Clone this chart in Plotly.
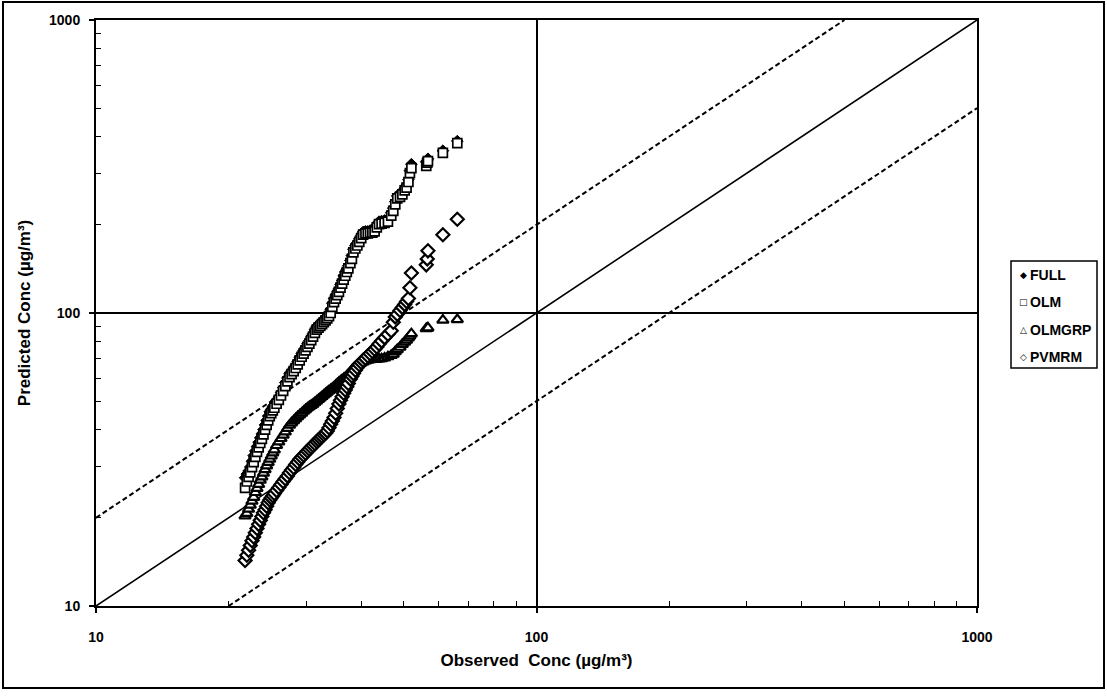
import plotly.graph_objects as go

# ---------------- data ----------------
OBSERVED = [21.8, 22.0, 22.2, 22.4, 22.6, 22.8, 23.0, 23.2, 23.4, 23.6,
            23.8, 24.0, 24.2, 24.4, 24.6, 24.8, 25.0, 25.2, 25.4, 25.7,
            26.0, 26.3, 26.6, 26.9, 27.2, 27.5, 27.8, 28.1, 28.4, 28.7,
            29.0, 29.3, 29.6, 29.9, 30.2, 30.5, 30.8, 31.1, 31.4, 31.7,
            32.0, 32.3, 32.6, 32.9, 33.2, 33.5, 33.8, 34.1, 34.4, 34.7,
            35.0, 35.3, 35.6, 35.9, 36.2, 36.5, 36.8, 37.1, 37.4, 37.8,
            38.1, 38.4, 38.8, 39.2, 39.6, 40.0, 40.4, 40.9, 41.4, 41.9,
            42.4, 42.9, 43.4, 43.9, 44.5, 45.2, 46.0, 46.8, 47.3, 47.8,
            48.3, 49.0, 49.6, 50.2, 50.7, 51.2, 51.6, 52.0, 56.2, 56.5,
            56.7, 61.3, 66.1]

FULL = [27.4, 28.2, 28.9, 29.8, 31.2, 32.6, 33.8, 35.0, 36.2, 37.5,
        38.7, 40.0, 41.5, 43.0, 44.5, 46.0, 46.9, 47.8, 48.7, 50.3,
        51.6, 53.5, 55.6, 57.9, 60.0, 62.0, 63.4, 64.8, 66.4, 68.4,
        70.6, 72.6, 74.4, 76.4, 78.4, 80.5, 82.8, 85.0, 87.6, 89.8,
        91.0, 92.2, 93.6, 95.0, 96.4, 97.8, 99.5, 103, 108, 112,
        115, 118, 121, 125, 129, 134, 138, 141, 145, 151,
        157, 165, 170, 174, 179, 184, 189, 190, 190, 191,
        191, 193, 200, 205, 206, 207, 209, 220, 228, 240,
        251, 253, 258, 266, 273, 285, 306, 322, 328, 332,
        336, 358, 386]

OLM = [25.3, 26.6, 27.6, 28.6, 29.8, 31.0, 32.3, 33.6, 34.8, 36.0,
       37.2, 38.5, 40.0, 41.5, 43.0, 44.5, 45.5, 46.5, 47.5, 49.0,
       50.5, 52.3, 54.2, 56.3, 58.4, 60.4, 61.9, 63.3, 64.9, 66.8,
       68.9, 70.9, 72.7, 74.6, 76.6, 78.6, 80.8, 83.0, 85.5, 87.8,
       89.1, 90.3, 91.6, 93.0, 94.4, 95.8, 97.5, 100, 105, 109,
       112, 115, 118, 122, 126, 130, 134, 138, 142, 148,
       153, 161, 166, 170, 175, 180, 185, 187, 187, 188,
       188, 190, 196, 201, 202, 203, 205, 215, 223, 235,
       246, 249, 254, 262, 268, 280, 300, 312, 318, 326,
       330, 352, 380]

OLMGRP = [20.3, 20.7, 21.4, 22.1, 22.8, 23.5, 24.4, 25.2, 26.0, 26.9,
          27.6, 28.4, 29.2, 30.1, 30.9, 31.7, 32.5, 33.3, 34.1, 35.3,
          36.3, 37.3, 38.3, 39.3, 40.4, 41.4, 42.2, 42.9, 43.6, 44.3,
          44.9, 45.5, 46.2, 46.8, 47.4, 47.9, 48.4, 48.9, 49.5, 50.1,
          50.7, 51.3, 51.9, 52.5, 53.1, 53.7, 54.3, 54.8, 55.3, 55.9,
          56.6, 57.3, 58.0, 58.6, 59.2, 59.7, 60.2, 60.9, 61.8, 62.9,
          63.8, 64.7, 65.6, 66.5, 67.0, 67.6, 68.1, 68.6, 69.0, 69.3,
          69.4, 69.5, 69.6, 69.7, 69.8, 70.2, 70.9, 71.7, 72.4, 73.8,
          75.0, 76.4, 78.2, 79.6, 80.8, 82.3, 83.6, 85.0, 88.5, 88.7,
          89.0, 94.6, 95.0]

PVMRM = [14.3, 14.9, 15.5, 16.1, 16.7, 17.2, 17.8, 18.4, 19.0, 19.6,
         20.2, 20.8, 21.3, 21.9, 22.5, 23.0, 23.4, 23.8, 24.2, 24.8,
         25.4, 26.0, 26.6, 27.2, 27.8, 28.5, 29.1, 29.7, 30.4, 31.0,
         31.7, 32.2, 32.7, 33.2, 33.8, 34.3, 34.8, 35.3, 35.8, 36.4,
         36.9, 37.4, 37.9, 38.4, 38.9, 39.6, 40.6, 41.7, 42.8, 44.0,
         45.5, 47.2, 48.9, 50.4, 51.8, 53.2, 54.6, 56.0, 57.5, 59.5,
         60.9, 62.2, 63.8, 65.2, 66.6, 67.8, 68.9, 70.0, 71.3, 72.6,
         73.9, 75.2, 76.6, 78.4, 80.2, 82.4, 84.6, 87.0, 93.0, 97.0,
         99.0, 102, 104.5, 107, 109.5, 112, 122, 137, 146, 153,
         163, 185, 209]

SERIES_NAMES = ["FULL", "OLM", "OLMGRP", "PVMRM"]
LEGEND_SYMBOLS = ["\u25C6", "\u25A1", "\u25B3", "\u25C7"]

# reference lines (1:1 and factor-of-two)
LINE_1TO1_X = [10, 1000]
LINE_1TO1_Y = [10, 1000]
LINE_OVER2_X = [10, 500]
LINE_OVER2_Y = [20, 1000]
LINE_UNDER2_X = [20, 1000]
LINE_UNDER2_Y = [10, 500]

TICK_VALS = [10, 100, 1000]
TICK_TEXT = ["10", "100", "1000"]

X_TITLE = "Observed  Conc (µg/m³)"
Y_TITLE = "Predicted Conc (µg/m³)"

# ---------------- styling / layout ----------------
FONT = "Liberation Sans, Arial, sans-serif"
SYMFONT = "DejaVu Sans, sans-serif"
W, H = 1107, 699
PL, PR, PT, PB = 96, 977, 20, 606          # plot area in page pixels
ML, MR, MT, MB = PL, W - PR, PT, H - PB
PW, PH = PR - PL, PB - PT


def px_x(px):
    return (px - PL) / PW


def px_y(py):
    return (PB - py) / PH


styles = {
    "FULL":   dict(symbol="diamond", size=9, color="black", line=dict(color="black", width=1)),
    "OLM":    dict(symbol="square", size=9, color="white", line=dict(color="black", width=1.7)),
    "OLMGRP": dict(symbol="triangle-up", size=10, color="white", line=dict(color="black", width=2.2)),
    "PVMRM":  dict(symbol="diamond", size=10, color="white", line=dict(color="black", width=2.2)),
}

fig = go.Figure()

fig.add_trace(go.Scatter(x=LINE_1TO1_X, y=LINE_1TO1_Y, mode="lines",
                         line=dict(color="black", width=1.6), showlegend=False, hoverinfo="skip"))
fig.add_trace(go.Scatter(x=LINE_OVER2_X, y=LINE_OVER2_Y, mode="lines",
                         line=dict(color="black", width=2, dash="5px,3px"), showlegend=False, hoverinfo="skip"))
fig.add_trace(go.Scatter(x=LINE_UNDER2_X, y=LINE_UNDER2_Y, mode="lines",
                         line=dict(color="black", width=2, dash="5px,3px"), showlegend=False, hoverinfo="skip"))

data = {"FULL": FULL, "OLM": OLM, "OLMGRP": OLMGRP, "PVMRM": PVMRM}
for name in SERIES_NAMES:
    fig.add_trace(go.Scatter(x=OBSERVED, y=data[name], mode="markers", name=name,
                             marker=styles[name], showlegend=False, cliponaxis=False))

axis_common = dict(
    type="log", range=[1, 3],
    tickmode="array", tickvals=TICK_VALS, ticktext=TICK_TEXT,
    ticks="outside", ticklen=5, tickwidth=1.5, tickcolor="black",
    showline=True, linecolor="black", linewidth=2, mirror=True,
    showgrid=True, gridcolor="black", gridwidth=1.6,
    zeroline=False,
    tickfont=dict(family=FONT, size=14, color="black", weight="bold"),
    minor=dict(ticks="inside", ticklen=5, tickwidth=1.2, tickcolor="black",
               tickvals=[m * 10 ** e for e in (1, 2) for m in range(2, 10)], showgrid=False),
)

fig.update_xaxes(**axis_common, ticklabelstandoff=12,
                 title=dict(text=X_TITLE, standoff=10,
                            font=dict(family=FONT, size=17, color="black", weight="bold")))
fig.update_yaxes(**axis_common, ticklabelstandoff=6,
                 title=dict(text=Y_TITLE, standoff=14,
                            font=dict(family=FONT, size=17, color="black", weight="bold")))

# outer frame of the picture
fig.add_shape(type="rect", xref="paper", yref="paper",
              x0=px_x(3), x1=px_x(1104), y0=px_y(688), y1=px_y(2),
              line=dict(color="black", width=2), fillcolor="rgba(0,0,0,0)", layer="below")

# legend box drawn as shapes + text
LEG_X0, LEG_X1, LEG_Y0, LEG_Y1 = 1011, 1097, 261, 368
fig.add_shape(type="rect", xref="paper", yref="paper",
              x0=px_x(LEG_X0), x1=px_x(LEG_X1), y0=px_y(LEG_Y1), y1=px_y(LEG_Y0),
              line=dict(color="black", width=1.5), fillcolor="white")
row_y = [275, 302, 330, 357]
for i, name in enumerate(SERIES_NAMES):
    fig.add_annotation(xref="paper", yref="paper", x=px_x(1023), y=px_y(row_y[i]),
                       text=LEGEND_SYMBOLS[i], showarrow=False, xanchor="center", yanchor="middle",
                       font=dict(family=SYMFONT, size=9, color="black"))
    fig.add_annotation(xref="paper", yref="paper", x=px_x(1028), y=px_y(row_y[i]),
                       text=name, showarrow=False, xanchor="left", yanchor="middle",
                       font=dict(family=FONT, size=14, color="black", weight="bold"))

fig.update_layout(
    width=W, height=H,
    margin=dict(l=ML, r=MR, t=MT, b=MB, pad=0),
    paper_bgcolor="white", plot_bgcolor="white",
    showlegend=False,
)

fig.write_html("out.html", config={"displayModeBar": False},
               post_script="document.body.style.margin='0';document.body.style.overflow='hidden';")
